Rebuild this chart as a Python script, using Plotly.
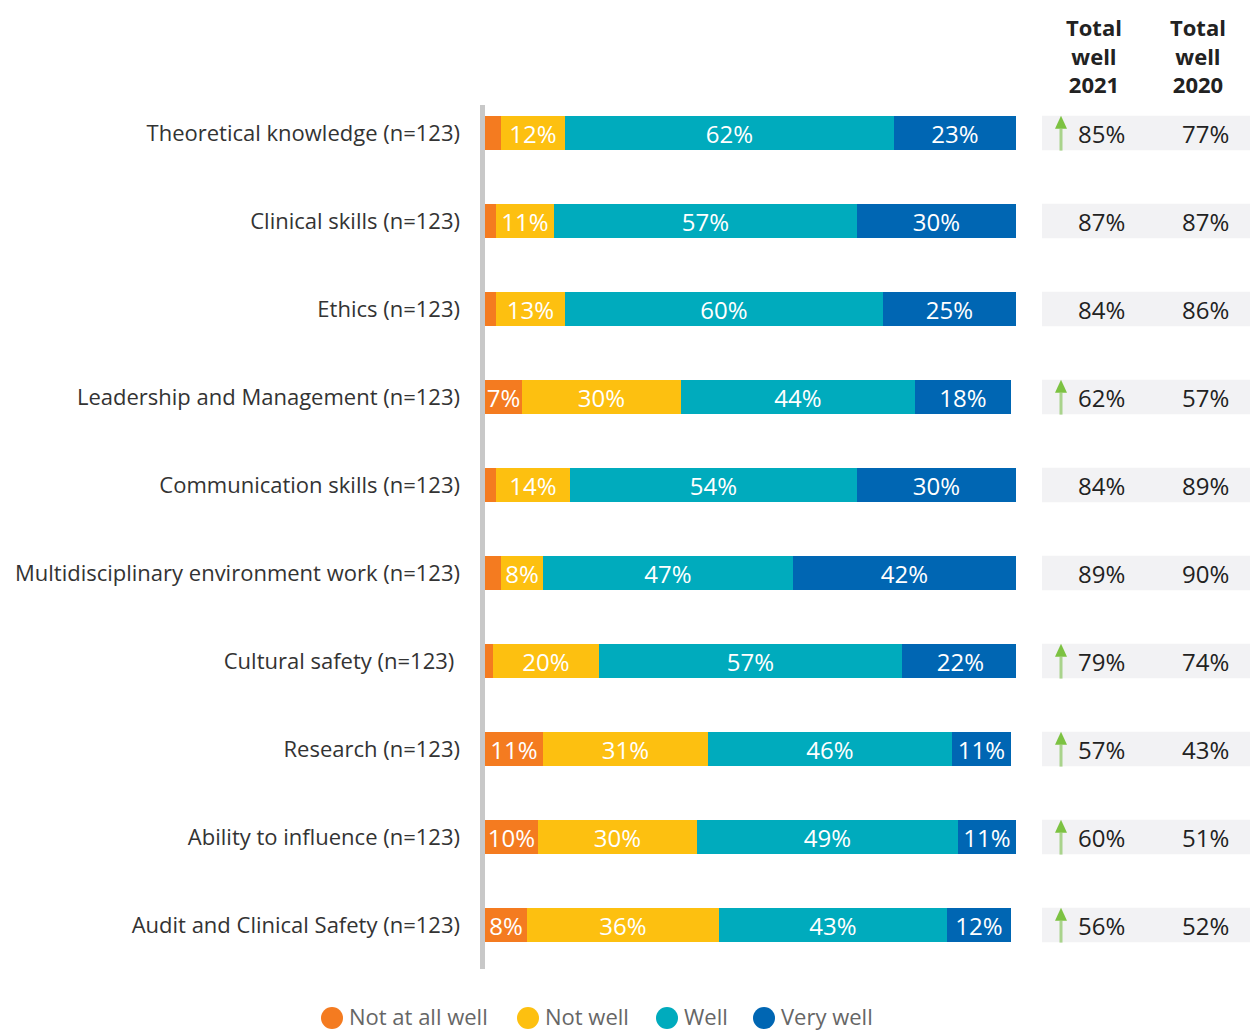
import plotly.graph_objects as go

# Survey: how well training prepared respondents, by area (n=123 each)
categories = [
    "Theoretical knowledge (n=123)",
    "Clinical skills (n=123)",
    "Ethics (n=123)",
    "Leadership and Management (n=123)",
    "Communication skills (n=123)",
    "Multidisciplinary environment work (n=123)",
    "Cultural safety (n=123) ",
    "Research (n=123)",
    "Ability to influence (n=123)",
    "Audit and Clinical Safety (n=123)",
]
not_at_all_well = [3, 2, 2, 7, 2, 3, 1.5, 11, 10, 8]
not_well = [12, 11, 13, 30, 14, 8, 20, 31, 30, 36]
well = [62, 57, 60, 44, 54, 47, 57, 46, 49, 43]
very_well = [23, 30, 25, 18, 30, 42, 22, 11, 11, 12]

# Smallest segments carry no printed label
labelled_min = 5

total_well_2021 = [85, 87, 84, 62, 84, 89, 79, 57, 60, 56]
total_well_2020 = [77, 87, 86, 57, 89, 90, 74, 43, 51, 52]
significant_rise = [True, False, False, True, False, False, True, True, True, True]

series = [
    ("Not at all well", not_at_all_well, "#f47b20"),
    ("Not well", not_well, "#fdc010"),
    ("Well", well, "#00abbd"),
    ("Very well", very_well, "#0066b3"),
]

FONT = "Open Sans"
rows = list(range(len(categories)))
bar_w = 0.39

# plot area in pixels (for paper-coordinate placement)
PLOT_LEFT, PLOT_RIGHT = 485, 1252
PLOT_TOP, PLOT_BOTTOM = 89, 969
PLOT_W = PLOT_RIGHT - PLOT_LEFT
PLOT_H = PLOT_BOTTOM - PLOT_TOP


def paper_x(px):
    return (px - PLOT_LEFT) / PLOT_W


def paper_y(py):
    return (PLOT_BOTTOM - py) / PLOT_H


fig = go.Figure()
for name, vals, color in series:
    fig.add_trace(go.Bar(
        y=rows, x=vals, orientation="h", name=name,
        marker=dict(color=color, line=dict(width=0)),
        width=bar_w,
        text=[f"{v:g}%" if v >= labelled_min else "" for v in vals],
        textposition="inside", insidetextanchor="middle",
        constraintext="none",
        textfont=dict(family=FONT, size=24, color="white"),
        hoverinfo="skip", showlegend=False,
    ))

# Anchor trace for the table subplot
fig.add_trace(go.Scatter(x=[None], y=[None], xaxis="x2", yaxis="y",
                         showlegend=False, hoverinfo="skip"))

shapes = []
annotations = []
box_x0, box_x1 = 1042, 1250
col_2021, col_2020 = 1101, 1205
arrow_x = 1061
for i in rows:
    shapes.append(dict(type="rect", xref="x2", yref="y",
                       x0=box_x0, x1=box_x1, y0=i - bar_w / 2, y1=i + bar_w / 2,
                       fillcolor="#f2f2f4", line=dict(width=0), layer="below"))
    annotations.append(dict(xref="x2", yref="y", x=col_2021, y=i,
                            text=f"{total_well_2021[i]}%", showarrow=False,
                            font=dict(family=FONT, size=24, color="#222222")))
    annotations.append(dict(xref="x2", yref="y", x=col_2020, y=i,
                            text=f"{total_well_2020[i]}%", showarrow=False,
                            font=dict(family=FONT, size=24, color="#222222")))
    if significant_rise[i]:
        top = i - 0.195
        head_base = top + 13 / 88
        bottom = i + 0.2
        shapes.append(dict(type="line", xref="x2", yref="y",
                           x0=arrow_x, x1=arrow_x, y0=head_base, y1=bottom,
                           line=dict(color="#a9d38c", width=3)))
        shapes.append(dict(type="path", xref="x2", yref="y",
                           path=f"M {arrow_x - 6} {head_base} L {arrow_x + 6} {head_base} "
                                f"L {arrow_x} {top} Z",
                           fillcolor="#7cc242", line=dict(width=0)))

for x, yr in ((1094, "2021"), (1198, "2020")):
    annotations.append(dict(xref="x2", yref="paper", x=x, y=paper_y(56),
                            yanchor="middle",
                            text=f"<b>Total<br>well<br>{yr}</b>", showarrow=False,
                            align="center",
                            font=dict(family=FONT, size=22, color="#222222")))

# grey baseline on the left of the bars
shapes.append(dict(type="line", xref="paper", yref="paper",
                   x0=paper_x(482.5), x1=paper_x(482.5), y0=0.0, y1=paper_y(105),
                   line=dict(color="#c8c8c8", width=5)))

# legend row: round swatches with labels, centred under the bars
legend_y = 1018
legend_swatch_x = [332, 528, 667, 764]
for (name, _, color), cx in zip(series, legend_swatch_x):
    shapes.append(dict(type="circle", xref="paper", yref="paper",
                       x0=paper_x(cx - 11), x1=paper_x(cx + 11),
                       y0=paper_y(legend_y + 11), y1=paper_y(legend_y - 11),
                       fillcolor=color, line=dict(width=0)))
    annotations.append(dict(xref="paper", yref="paper",
                            x=paper_x(cx + 16), y=paper_y(1032),
                            xanchor="left", yanchor="bottom", showarrow=False,
                            borderpad=0, text=name,
                            font=dict(family=FONT, size=22, color="#666666")))

fig.update_layout(
    width=1252, height=1033,
    margin=dict(l=PLOT_LEFT, r=1252 - PLOT_RIGHT, t=PLOT_TOP, b=1033 - PLOT_BOTTOM),
    barmode="stack", bargap=0, showlegend=False,
    plot_bgcolor="white", paper_bgcolor="white",
    font=dict(family=FONT, size=22, color="#333333"),
    xaxis=dict(domain=[0, paper_x(1016)], range=[0, 100], visible=False, fixedrange=True),
    xaxis2=dict(domain=[paper_x(1016), 1], range=[1016, 1252], visible=False,
                anchor="y", fixedrange=True),
    yaxis=dict(tickvals=rows, ticktext=categories, range=[9.5, -0.5],
               showgrid=False, zeroline=False, showline=False, ticks="",
               ticklabelstandoff=24,
               tickfont=dict(family=FONT, size=22, color="#333333")),
    shapes=shapes, annotations=annotations,
)

fig.write_html("out.html")
